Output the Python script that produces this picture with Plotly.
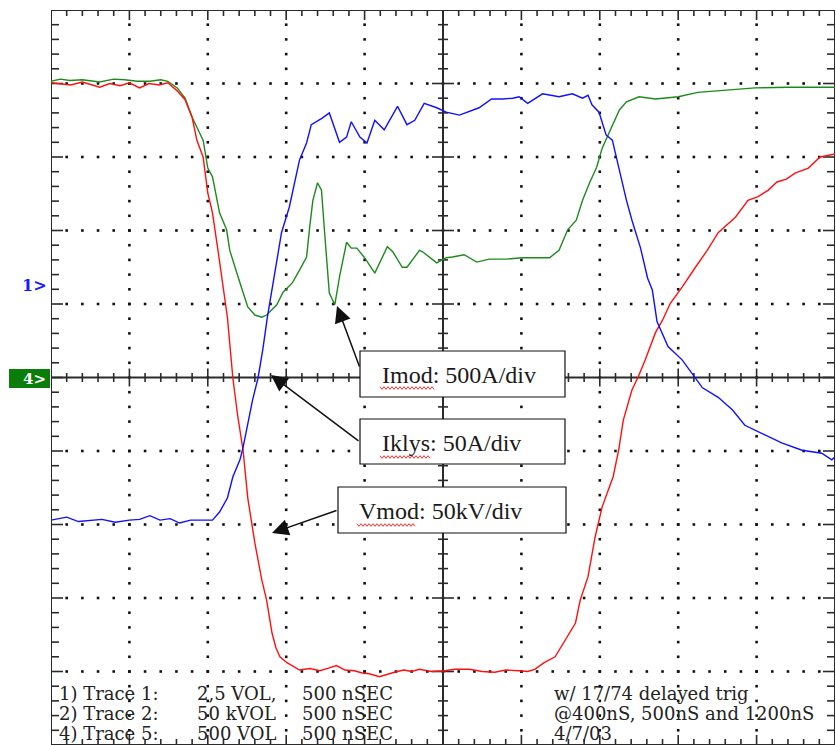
import numpy as np
import plotly.graph_objects as go

# ---------------- data (x and y in scope divisions: 500 ns/div horizontally) ----------------
vmod_x = [0.00, 0.12, 0.25, 0.40, 0.55, 0.62, 0.75, 0.88, 1.00, 1.13, 1.25, 1.38, 1.49,
          1.61, 1.71, 1.80, 1.86, 1.94, 2.00, 2.06, 2.13, 2.19, 2.25, 2.32, 2.38, 2.45,
          2.51, 2.60, 2.69, 2.75, 2.82, 2.87, 2.92, 3.01, 3.17, 3.30, 3.43, 3.55, 3.64,
          3.75, 3.87, 3.97, 4.06, 4.19, 4.28, 4.38, 4.50, 4.60, 4.70, 4.85, 5.02, 5.15,
          5.34, 5.50, 5.66, 5.80, 5.97, 6.08, 6.17, 6.29, 6.43, 6.56, 6.69, 6.75, 6.85,
          6.94, 7.03, 7.17, 7.24, 7.30, 7.41, 7.49, 7.58, 7.71, 7.80, 7.90, 8.05, 8.22,
          8.37, 8.51, 8.73, 8.89, 9.02, 9.15, 9.26, 9.38, 9.49, 9.66, 9.81, 10.00]
vmod_y = [4.01, 4.00, 3.98, 4.02, 3.97, 3.95, 4.00, 3.97, 4.01, 3.94, 4.00, 3.98, 4.01,
          3.90, 3.78, 3.54, 3.23, 3.00, 2.51, 2.24, 1.73, 1.27, 0.82, -0.01, -0.51, -0.99,
          -1.64, -2.25, -2.76, -3.03, -3.48, -3.68, -3.80, -3.88, -3.98, -3.96, -3.99, -3.95, -3.92,
          -3.98, -3.99, -4.02, -4.03, -4.07, -4.04, -4.01, -3.98, -4.00, -3.97, -4.00, -3.99, -3.97,
          -3.97, -4.00, -4.01, -3.98, -3.99, -4.00, -3.97, -3.88, -3.80, -3.57, -3.34, -3.03, -2.71,
          -2.17, -1.76, -1.35, -0.99, -0.58, -0.17, 0.01, 0.24, 0.61, 0.78, 1.01, 1.23, 1.50,
          1.73, 1.97, 2.18, 2.41, 2.46, 2.55, 2.66, 2.70, 2.78, 2.85, 3.00, 3.04]

iklys_x = [0.00, 0.20, 0.35, 0.50, 0.65, 0.82, 1.00, 1.13, 1.26, 1.39, 1.52, 1.64, 1.78,
           1.90, 2.06, 2.15, 2.25, 2.32, 2.41, 2.45, 2.51, 2.57, 2.64, 2.70, 2.76, 2.83,
           2.89, 2.94, 3.04, 3.17, 3.26, 3.32, 3.46, 3.55, 3.68, 3.77, 3.83, 3.94, 4.03,
           4.13, 4.25, 4.42, 4.54, 4.64, 4.76, 4.92, 5.04, 5.21, 5.46, 5.62, 5.76, 5.89,
           5.97, 6.08, 6.27, 6.48, 6.65, 6.78, 6.85, 6.90, 6.99, 7.08, 7.16, 7.25, 7.34,
           7.41, 7.52, 7.61, 7.67, 7.73, 7.87, 8.05, 8.22, 8.31, 8.51, 8.69, 8.85, 9.07,
           9.32, 9.58, 9.83, 9.96, 10.00]
iklys_y = [-1.94, -1.90, -1.96, -1.95, -1.93, -1.97, -1.94, -1.93, -1.88, -1.94, -1.92, -1.98, -1.94,
           -1.94, -1.94, -1.83, -1.64, -1.35, -1.12, -0.95, -0.62, -0.31, -0.01, 0.37, 0.82, 1.29,
           1.64, 1.97, 2.32, 2.96, 3.19, 3.44, 3.53, 3.60, 3.20, 3.27, 3.48, 3.27, 3.19,
           3.50, 3.37, 3.69, 3.44, 3.50, 3.73, 3.67, 3.61, 3.57, 3.67, 3.79, 3.79, 3.80,
           3.82, 3.73, 3.86, 3.82, 3.86, 3.80, 3.84, 3.71, 3.61, 3.30, 3.23, 2.82, 2.41,
           2.14, 1.76, 1.35, 1.19, 0.76, 0.42, 0.24, -0.01, -0.14, -0.27, -0.44, -0.65, -0.76,
           -0.89, -0.99, -1.03, -1.12, -1.08]

imod_x = [0.00, 0.12, 0.24, 0.40, 0.62, 0.80, 0.94, 1.10, 1.26, 1.40, 1.49, 1.61, 1.71,
          1.80, 1.94, 2.00, 2.06, 2.15, 2.24, 2.28, 2.41, 2.51, 2.60, 2.69, 2.75, 2.82,
          2.88, 2.96, 3.08, 3.17, 3.26, 3.30, 3.34, 3.40, 3.45, 3.49, 3.55, 3.62, 3.68,
          3.77, 3.83, 3.90, 4.00, 4.13, 4.19, 4.29, 4.36, 4.48, 4.54, 4.70, 4.74, 4.92,
          5.04, 5.12, 5.27, 5.43, 5.59, 5.81, 6.01, 6.23, 6.36, 6.48, 6.59, 6.70, 6.78,
          6.87, 6.96, 7.03, 7.12, 7.25, 7.34, 7.50, 7.71, 8.00, 8.25, 8.64, 8.98, 9.40,
          10.00]
imod_y = [4.03, 4.06, 4.04, 4.05, 4.02, 4.06, 4.05, 4.03, 4.03, 4.05, 4.03, 3.94, 3.80,
          3.54, 3.23, 2.85, 2.73, 2.24, 2.01, 1.73, 1.29, 0.96, 0.85, 0.82, 0.85, 0.92,
          0.99, 1.16, 1.29, 1.46, 1.64, 2.05, 2.41, 2.65, 2.55, 1.97, 1.15, 0.99, 1.37,
          1.84, 1.76, 1.76, 1.63, 1.42, 1.56, 1.78, 1.71, 1.50, 1.50, 1.73, 1.71, 1.56,
          1.63, 1.64, 1.67, 1.57, 1.61, 1.61, 1.63, 1.63, 1.63, 1.73, 2.01, 2.14, 2.41,
          2.65, 2.86, 3.12, 3.34, 3.64, 3.75, 3.82, 3.79, 3.82, 3.88, 3.91, 3.94, 3.95,
          3.95]

box_labels = ["Imod: 500A/div", "Iklys: 50A/div", "Vmod: 50kV/div"]
# scope read-out text (three columns on the left, one on the right)
info_trace = ["1) Trace 1:", "2) Trace 2:", "4) Trace 5:"]
info_scale = ["2,5 VOL,", "50 kVOL", "500 VOL"]
info_time = ["500 nSEC", "500 nSEC", "500 nSEC"]
info_right = ["w/ 17/74 delayed trig", "@400nS, 500nS and 1200nS", "4/7/03"]

# ---------------- geometry helpers ----------------
W, H = 836, 745
ML, MR, MT, MB = 51, 1, 10, 0
PW, PH = W - ML - MR, H - MT - MB
PXX, PXY = PW / 10.0, PH / 10.0


def dx(p):
    return p / PXX


def dy(p):
    return p / PXY


def X(px):
    return (px - ML) / PXX


def Y(py):
    return (MT + PH / 2.0 - py) / PXY


def PX(px):
    return (px - ML) / PW


def PY(py):
    return (H - MB - py) / PH


INK = "#2b2b2b"
fig = go.Figure()

# dotted graticule
minor = [round(0.2 * i, 6) for i in range(51)]
dxs, dys = [], []
for k in range(1, 10):
    if k == 5:
        continue
    for i, m in enumerate(minor):
        if 0 < i < 50:
            dxs.append(k); dys.append(m - 5)
for k in range(-4, 5):
    if k == 0:
        continue
    for i, m in enumerate(minor):
        if 0 < i < 50:
            dxs.append(m); dys.append(k)
fig.add_trace(go.Scatter(x=dxs, y=dys, mode="markers", hoverinfo="skip",
                         marker=dict(symbol="square", size=2.6, color="#111", line=dict(width=0))))

# tick marks
sx, sy = [], []


def seg(x0, y0, x1, y1):
    sx.extend([x0, x1, None]); sy.extend([y0, y1, None])


for i, m in enumerate(minor):
    major = (i % 5 == 0)
    seg(m, 5, m, 5 - dy(10 if major else 6))
    seg(m, -5, m, -5 + dy(10 if major else 6))
    seg(m, -dy(9 if major else 4.5), m, dy(9 if major else 4.5))
    yv = m - 5
    seg(0, yv, dx(12 if major else 8), yv)
    seg(10, yv, 10 - dx(12 if major else 8), yv)
    seg(5 - dx(11 if major else 5), yv, 5 + dx(11 if major else 5), yv)
fig.add_trace(go.Scatter(x=sx, y=sy, mode="lines", hoverinfo="skip", cliponaxis=False,
                         line=dict(color=INK, width=1.6)))

# frame and centre cross
fx = [0, 10, 10, 0, 0, None, 0, 10, None, 5, 5]
fy = [-5, -5, 5, 5, -5, None, 0, 0, None, -5, 5]
fig.add_trace(go.Scatter(x=fx, y=fy, mode="lines", hoverinfo="skip", cliponaxis=False,
                         line=dict(color=INK, width=2)))

# waveforms
fig.add_trace(go.Scatter(x=imod_x, y=imod_y, mode="lines", name="Imod",
                         line=dict(color="#1e8a1e", width=1.4)))
fig.add_trace(go.Scatter(x=vmod_x, y=vmod_y, mode="lines", name="Vmod",
                         line=dict(color="#ff1010", width=1.4)))
fig.add_trace(go.Scatter(x=iklys_x, y=iklys_y, mode="lines", name="Iklys",
                         line=dict(color="#1010ff", width=1.4)))

# label boxes
boxes = [(360, 351, 565, 397), (360, 419, 565, 464), (338, 487, 566, 533)]
shapes = []
for (x0, y0, x1, y1) in boxes:
    shapes.append(dict(type="rect", xref="x", yref="y", x0=X(x0), x1=X(x1), y0=Y(y0), y1=Y(y1),
                       line=dict(color="#111", width=1.2), fillcolor="white", layer="above"))


def wavy(px0, px1, py):
    xs = np.arange(px0, px1 + 0.1, 2.0)
    pts = []
    for j, xv in enumerate(xs):
        yy = py + (1.3 if j % 2 else -1.3)
        pts.append(f"{X(xv):.4f},{Y(yy):.4f}")
    return "M " + " L ".join(pts)


for (a, b, c) in [(380, 434, 388), (380, 431, 457), (357, 416, 525)]:
    shapes.append(dict(type="path", xref="x", yref="y", path=wavy(a, b, c),
                       line=dict(color="#ff3030", width=1), layer="above"))

# green channel-4 marker box (outside plot area, paper refs)
shapes.append(dict(type="rect", xref="paper", yref="paper", x0=PX(9), x1=PX(50),
                   y0=PY(388), y1=PY(369), line=dict(width=0), fillcolor="#0a7d0a", layer="above"))

ann = []
serif = "Liberation Serif, Times New Roman, serif"
for lab, (px, py) in zip(box_labels, [(380, 375), (380, 443), (357, 511)]):
    ann.append(dict(x=X(px), y=Y(py), xref="x", yref="y", text=lab, showarrow=False,
                    xanchor="left", yanchor="middle", font=dict(family=serif, size=24, color="#1a1a1a")))

# arrows
for (tx, ty, bx, by) in [(337, 306, 360, 368), (271, 375, 360, 442), (272, 533, 338, 510)]:
    ann.append(dict(x=X(tx), y=Y(ty), ax=X(bx), ay=Y(by), xref="x", yref="y", axref="x", ayref="y",
                    text="", showarrow=True, arrowhead=2, arrowsize=2.2, arrowwidth=1.5,
                    arrowcolor="#111", standoff=0, startstandoff=0))

# channel markers
ann.append(dict(x=PX(49), y=PY(286), xref="paper", yref="paper", text="<b>1></b>", showarrow=False,
                xanchor="right", yanchor="middle", font=dict(family="DejaVu Serif", size=16, color="#1a1aff")))
ann.append(dict(x=PX(48), y=PY(378.5), xref="paper", yref="paper", text="<b>4></b>", showarrow=False,
                xanchor="right", yanchor="middle",
                font=dict(family="DejaVu Serif", size=15, color="white")))

# scope read-out text
rows_y = [693, 713, 733]
scope_font = dict(family="DejaVu Serif", size=18, color="#222")
for col, px in [(info_trace, 57), (info_scale, 195), (info_time, 300), (info_right, 552)]:
    for txt, py in zip(col, rows_y):
        ann.append(dict(x=PX(px), y=PY(py), xref="paper", yref="paper", text=txt, showarrow=False,
                        xanchor="left", yanchor="middle", font=scope_font))

fig.update_layout(
    width=W, height=H, margin=dict(l=ML, r=MR, t=MT, b=MB, pad=0),
    paper_bgcolor="white", plot_bgcolor="white", showlegend=False,
    xaxis=dict(range=[0, 10], visible=False, fixedrange=True),
    yaxis=dict(range=[-5, 5], visible=False, fixedrange=True),
    shapes=shapes, annotations=ann,
)

fig.write_html("out.html", config={"displayModeBar": False},
               post_script="document.body.style.margin='0';")
